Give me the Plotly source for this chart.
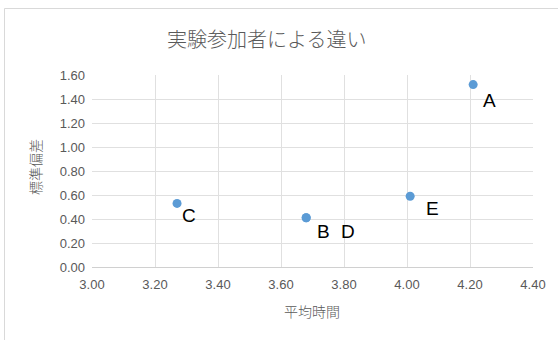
import plotly.graph_objects as go

# Data
names = ["A", "B", "C", "D", "E"]
mean_time = [4.21, 3.68, 3.27, 3.68, 4.01]
std_dev = [1.52, 0.41, 0.53, 0.41, 0.59]
# label pixel offsets (x, y) relative to each point
label_dx = [16, 17, 12, 42, 22]
label_dy = [-16, -14, -12, -14, -12]

x_ticks = [3.00, 3.20, 3.40, 3.60, 3.80, 4.00, 4.20, 4.40]
y_ticks = [0.00, 0.20, 0.40, 0.60, 0.80, 1.00, 1.20, 1.40, 1.60]

title_text = "実験参加者による違い"
x_title = "平均時間"
y_title = "標準偏差"

L, R, T, B = 92, 25, 75, 73
W, H = 558, 340
pw, ph = W - L - R, H - T - B

def px(x):
    return (x - L) / pw

def py(y):
    return (H - B - y) / ph

gray = "#595959"
cjk = "Noto Sans CJK JP"

fig = go.Figure()
fig.add_trace(go.Scatter(
    x=mean_time, y=std_dev, mode="markers",
    marker=dict(color="#5b9bd5", size=9),
    hoverinfo="text", text=names, showlegend=False,
))

annotations = []
for n, xv, yv, dx, dy in zip(names, mean_time, std_dev, label_dx, label_dy):
    annotations.append(dict(
        x=xv, y=yv, xref="x", yref="y", text=n, showarrow=False,
        xshift=dx, yshift=dy, font=dict(family="Liberation Sans", size=19, color="#000000"),
    ))
annotations.append(dict(
    x=px(266), y=py(38), xref="paper", yref="paper", text=title_text,
    showarrow=False, xanchor="center", yanchor="middle",
    font=dict(family=cjk, size=20, color=gray, weight=300),
))
annotations.append(dict(
    x=px(312), y=py(311), xref="paper", yref="paper", text=x_title,
    showarrow=False, xanchor="center", yanchor="middle",
    font=dict(family=cjk, size=14, color=gray, weight=300),
))
annotations.append(dict(
    x=px(35), y=py(167), xref="paper", yref="paper", text=y_title,
    showarrow=False, xanchor="center", yanchor="middle", textangle=-90,
    font=dict(family=cjk, size=14, color=gray, weight=300),
))

shapes = [
    dict(type="line", xref="paper", yref="paper", x0=px(4.5), x1=px(560), y0=py(8.5), y1=py(8.5),
         line=dict(color="#d9d9d9", width=1)),
    dict(type="line", xref="paper", yref="paper", x0=px(4.5), x1=px(4.5), y0=py(8.5), y1=py(345),
         line=dict(color="#d9d9d9", width=1)),
]

fig.update_layout(
    width=W, height=H,
    margin=dict(l=L, r=R, t=T, b=B),
    paper_bgcolor="white", plot_bgcolor="white",
    annotations=annotations, shapes=shapes,
    xaxis=dict(
        range=[3.0, 4.4], tickvals=x_ticks, ticktext=[f"{v:.2f}" for v in x_ticks],
        showgrid=True, gridcolor="#e0e0e0", gridwidth=1, zeroline=False,
        showline=True, linecolor="#d0d0d0", mirror=False,
        tickfont=dict(family="Liberation Sans", size=13, color=gray), ticks="",
        ticklabelstandoff=5,
    ),
    yaxis=dict(
        range=[0.0, 1.6], tickvals=y_ticks, ticktext=[f"{v:.2f}" for v in y_ticks],
        showgrid=True, gridcolor="#e0e0e0", gridwidth=1, zeroline=False,
        showline=False,
        tickfont=dict(family="Liberation Sans", size=13, color=gray), ticks="",
        ticklabelstandoff=6,
    ),
)

fig.write_html("out.html")
